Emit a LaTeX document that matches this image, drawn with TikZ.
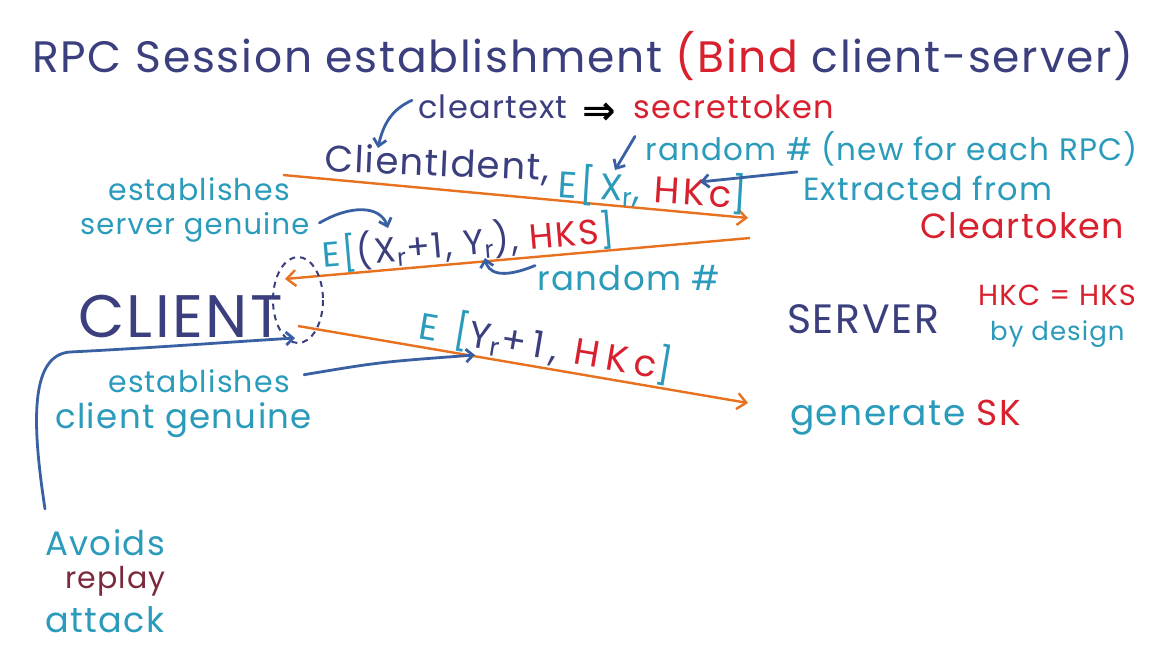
\documentclass[tikz,border=0pt]{standalone}
\usepackage{fontspec}
\setmainfont{Poppins}[LetterSpace=4]
\newfontfamily\symfont{DejaVu Sans}
\usetikzlibrary{arrows.meta}
\definecolor{navy}{HTML}{3B3F7E}
\definecolor{tealc}{HTML}{2A9BBA}
\definecolor{blu}{HTML}{3A60A4}
\definecolor{hred}{HTML}{D8202E}
\definecolor{org}{HTML}{E8711F}
\definecolor{maroon}{HTML}{7B2A3C}
\newcommand{\fs}[1]{\fontsize{#1}{#1}\selectfont}
\newcommand{\wide}[1]{\addfontfeatures{LetterSpace=#1}}
\begin{document}
\begin{tikzpicture}[x=1pt,y=-1pt,
  lbl/.style={inner sep=0pt, anchor=base west},
  msgline/.style={draw=org, line width=2.4pt, -{Straight Barb[length=9pt,width=16pt,line width=2.4pt]}},
  note/.style={draw=blu, line width=2.8pt, line cap=round, -{Straight Barb[length=7pt,width=13pt,line width=2.8pt]}}]
\useasboundingbox[fill=white] (0,0) rectangle (1164,648);

% title
\node[lbl, font=\fs{44}, text=navy] (title) at (32,72) {RPC Session establishment \textcolor{hred}{(Bind} client-server)};

% top annotations
\node[lbl, font=\fs{32}, text=navy] (clear) at (418,118) {cleartext};
\node[lbl, text=black, font=\symfont\bfseries\fs{40}] (impl) at (582,124) {⇒};
\node[lbl, font=\fs{32}, text=hred] (secret) at (633,118) {secrettoken};

% message 1
\coordinate (a1) at (283,175); \coordinate (b1) at (748,218);
\draw[msgline] (a1) -- (b1);
\node[lbl, font=\fs{37}, text=navy, rotate=-2.5] (m1a) at (324,171) {ClientIdent,};
\node[lbl, font=\fs{37}\wide{10}, text=tealc, rotate=-3.5] (m1b) at (557,197) {E[X\textsubscript{r}, \textcolor{hred}{HKc}]};
\node[lbl, font=\fs{31}, text=tealc] (rnd1) at (645,160) {random \# (new for each RPC)};
\node[lbl, font=\fs{32}, text=tealc] (extr) at (803,200) {Extracted from};
\node[lbl, font=\fs{35}, text=hred] (ctok) at (920,238) {Cleartoken};

\coordinate (iclient) at (378,148);
\coordinate (xr) at (615,170);
\coordinate (hkc) at (700,182);
\draw[note] (clear.west) ++(-6,-6) .. controls (395,108) and (384,120) .. (iclient);
\draw[note] (rnd1.west) ++(-10,-12) -- (xr);
\draw[note] (extr.west) ++(-6,-16) .. controls (750,176) .. (hkc);

% left notes
\node[lbl, font=\fs{30}, text=tealc] (est1) at (108,200) {establishes};
\node[lbl, font=\fs{29}, text=tealc] (srvg) at (80,234) {server genuine};

% message 2
\coordinate (a2) at (750,238); \coordinate (b2) at (285,279);
\draw[msgline] (a2) -- (b2);
\node[lbl, font=\fs{35}\wide{6}, text=navy, rotate=5] (m2) at (323,268) {\textcolor{tealc}{E[}(X\textsubscript{r}+1, Y\textsubscript{r}), \textcolor{hred}{HKS}\textcolor{tealc}{]}};
\node[lbl, font=\fs{34}, text=tealc] (rnd2) at (537,290) {random \#};
\coordinate (paren) at (388,228);
\coordinate (yr) at (485,258);
\draw[note] (srvg.east) ++(10,-4) .. controls (350,205) and (380,205) .. (paren);
\draw[note] (rnd2.west) ++(-2,-12) .. controls (500,280) and (488,272) .. (yr);

% actors
\node[lbl, font=\fs{60}, text=navy] (client) at (78,337) {CLIENT};
\node[lbl, font=\fs{41}, text=navy] (server) at (787,333) {SERVER};
\node[lbl, font=\fs{29}, text=hred] (hk) at (978,305) {HKC = HKS};
\node[lbl, font=\fs{26}, text=tealc] (design) at (990,340) {by design};

\draw[navy, line width=2pt, dash pattern=on 6pt off 5pt] (298,300) ellipse [x radius=25, y radius=43];

% message 3
\coordinate (a3) at (298,326); \coordinate (b3) at (748,403);
\draw[msgline] (a3) -- (b3);
\node[lbl, font=\fs{37}\wide{18}, text=navy, rotate=-9.5] (m3) at (417,338) {\textcolor{tealc}{E [}Y\textsubscript{r}+1, \textcolor{hred}{HKc}\textcolor{tealc}{]}};

\node[lbl, font=\fs{30}, text=tealc] (est2) at (108,392) {establishes};
\node[lbl, font=\fs{34}, text=tealc] (clig) at (55,428) {client genuine};
\coordinate (ebr) at (475,355);
\draw[note] (est2.east) ++(14,-6) .. controls (380,362) .. (ebr);

\node[lbl, font=\fs{36}, text=tealc] (gen) at (790,425) {generate \textcolor{hred}{SK}};

% replay note
\node[lbl, font=\fs{34}, text=tealc] (avoid) at (45,555) {Avoids};
\node[lbl, font=\fs{30}, text=maroon] (replay) at (65,588) {replay};
\node[lbl, font=\fs{35}, text=tealc] (attack) at (45,632) {attack};
\coordinate (cl) at (295,338);
\draw[note] (avoid.north west) ++(0,-20) .. controls (33,430) and (28,355) .. (70,352) .. controls (150,348) and (230,342) .. (cl);
\end{tikzpicture}
\end{document}
